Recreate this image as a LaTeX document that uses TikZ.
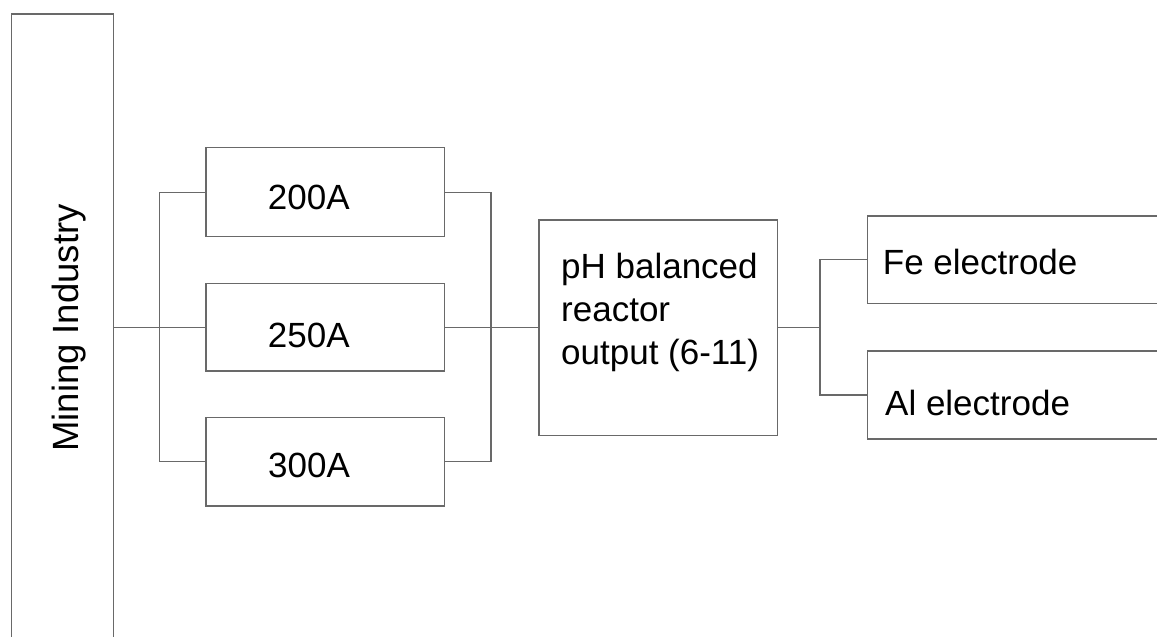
\documentclass[tikz,border=0pt]{standalone}
\usepackage{fontspec}
\setmainfont{Liberation Sans}
\definecolor{edge}{RGB}{105,105,105}
\tikzset{
  box/.style={draw=edge, line width=1.3pt, rectangle, inner sep=0pt},
  lbl/.style={inner sep=0pt, font=\fontsize{35}{43.2}\selectfont, text=black},
  wire/.style={draw=edge, line width=1.3pt},
}
\begin{document}
\begin{tikzpicture}[x=1pt, y=-1pt]
\clip (0,0) rectangle (1157,637);
\fill[white] (0,0) rectangle (1157,637);

% source column (runs past the lower edge)
\node[box, minimum width=102pt, minimum height=720pt, anchor=north west] (mining) at (11,13.3) {};
\node[lbl, font=\fontsize{36.5}{43}\selectfont, rotate=90, anchor=base] (tmining) at (78,328) {Mining Industry};

% current settings
\node[box, minimum width=238.3pt, minimum height=89pt] (b200) at (325.2,192.2) {};
\node[box, minimum width=238.3pt, minimum height=87.4pt] (b250) at (325.2,327.3) {};
\node[box, minimum width=238.3pt, minimum height=88.7pt] (b300) at (325.2,461.7) {};
\node[lbl, anchor=base west] (t200) at (267.7,209) {200A};
\node[lbl, anchor=base west] (t250) at (267.7,347.3) {250A};
\node[lbl, anchor=base west] (t300) at (268,477.3) {300A};

% reactor
\node[box, minimum width=238.4pt, minimum height=215.7pt, anchor=north west] (ph) at (538.3,219.3) {};
\node[lbl, align=left, anchor=north west] (tph) at (561,252.8) {pH balanced\\reactor\\output (6-11)};

% electrodes (run past the right edge)
\node[box, minimum width=400pt, minimum height=87.3pt, anchor=west] (fe) at (866.7,259.5) {};
\node[box, minimum width=400pt, minimum height=88pt, anchor=west] (al) at (866.7,395) {};
\node[lbl, anchor=base west] (tfe) at (882.7,274) {Fe electrode};
\node[lbl, anchor=base west] (tal) at (885,415.7) {Al electrode};

% bus bars
\coordinate (lbus) at (159.3,0);
\coordinate (rbus) at (491,0);
\coordinate (ebus) at (820,0);

\draw[wire] (mining.east |- b250.west) -- (b250.west);
\draw[wire] (b200.west) -- (b200.west -| lbus) -- (b300.west -| lbus) -- (b300.west);
\draw[wire] (b200.east) -- (b200.east -| rbus) -- (b300.east -| rbus) -- (b300.east);
\draw[wire] (b250.east) -- (ph.west |- b250.east);
\draw[wire] (ph.east |- b250.east) -- (b250.east -| ebus);
\draw[wire] (fe.west) -- (fe.west -| ebus) -- (al.west -| ebus) -- (al.west);
\end{tikzpicture}
\end{document}
